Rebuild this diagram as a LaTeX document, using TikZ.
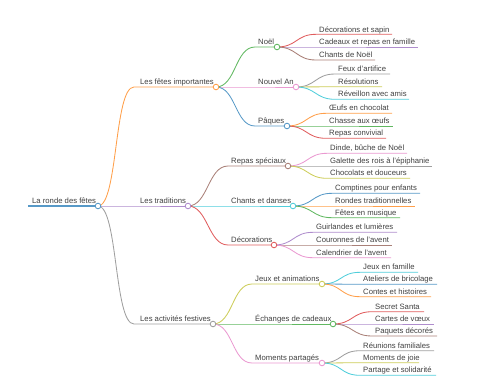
\documentclass[tikz,border=0pt]{standalone}
\usepackage{fontspec}
\setmainfont{Liberation Sans}

\definecolor{cBlue}{HTML}{1F77B4}
\definecolor{cOrange}{HTML}{FF7F0E}
\definecolor{cGreen}{HTML}{2CA02C}
\definecolor{cRed}{HTML}{D62728}
\definecolor{cPurple}{HTML}{9467BD}
\definecolor{cBrown}{HTML}{8C564B}
\definecolor{cPink}{HTML}{E377C2}
\definecolor{cGray}{HTML}{7F7F7F}
\definecolor{cOlive}{HTML}{BCBD22}
\definecolor{cCyan}{HTML}{17BECF}

\tikzset{
  lbl/.style={anchor=base west, inner sep=0pt, font=\fontsize{7.7}{9}\selectfont, text=black!75},
  ln/.style={draw=#1!75!white, line width=0.85pt},
  knob/.style={circle, draw=#1!75!white, fill=white, line width=0.85pt, inner sep=0pt, minimum size=5.6pt},
  br/.style={to path={.. controls +(20,0) and +(-20,0) .. (\tikztotarget)}},
}

\begin{document}
\begin{tikzpicture}[x=1pt,y=1pt,yscale=-1,xscale=1]
\useasboundingbox (0,0) rectangle (480,384);

% --- 1. racine ---
\coordinate (root-s) at (28,206); \coordinate (root) at (98,206);
\node[lbl] (root-t) at (32,203.5) {La ronde des fêtes};
\draw[ln=cBlue, line width=1.5pt] (root-s) -- (root);

% --- 2. premier niveau ---
\coordinate (fetes-s) at (134,87); \coordinate (fetes) at (216,87);
\node[lbl] (fetes-t) at (140,84.5) {Les fêtes importantes};
\draw[ln=cOrange] (root) to[br] (fetes-s) -- (fetes);

\coordinate (trad-s) at (134,206); \coordinate (trad) at (188,206);
\node[lbl] (trad-t) at (140,203.5) {Les traditions};
\draw[ln=cPurple] (root) to[br] (trad-s) -- (trad);

\coordinate (activ-s) at (134,324); \coordinate (activ) at (213,324);
\node[lbl] (activ-t) at (140,321.5) {Les activités festives};
\draw[ln=cGray] (root) to[br] (activ-s) -- (activ);

% --- 3. les fêtes importantes ---
\coordinate (noel-s) at (255,47); \coordinate (noel) at (277,47);
\node[lbl] (noel-t) at (258,44.5) {Noël};
\draw[ln=cGreen] (fetes) to[br] (noel-s) -- (noel);

\coordinate (nouvel-s) at (255,87); \coordinate (nouvel) at (296,87);
\node[lbl] (nouvel-t) at (258,84.5) {Nouvel An};
\draw[ln=cPink] (fetes) to[br] (nouvel-s) -- (nouvel);

\coordinate (paques-s) at (255,126); \coordinate (paques) at (287,126);
\node[lbl] (paques-t) at (258,123.5) {Pâques};
\draw[ln=cBlue] (fetes) to[br] (paques-s) -- (paques);

% Noël
\coordinate (sapin-s) at (316,34.3); \coordinate (sapin) at (392,34.3);
\node[lbl] (sapin-t) at (319,32) {Décorations et sapin};
\draw[ln=cRed] (noel) to[br] (sapin-s) -- (sapin);

\coordinate (cadeaux-s) at (316,47); \coordinate (cadeaux) at (418,47);
\node[lbl] (cadeaux-t) at (319,44.5) {Cadeaux et repas en famille};
\draw[ln=cPurple] (noel) to[br] (cadeaux-s) -- (cadeaux);

\coordinate (chantsn-s) at (316,60); \coordinate (chantsn) at (375,60);
\node[lbl] (chantsn-t) at (319,57.5) {Chants de Noël};
\draw[ln=cBrown] (noel) to[br] (chantsn-s) -- (chantsn);

% Nouvel An
\coordinate (feux-s) at (335,74); \coordinate (feux) at (390,74);
\node[lbl] (feux-t) at (338,71.5) {Feux d'artifice};
\draw[ln=cGray] (nouvel) to[br] (feux-s) -- (feux);

\coordinate (resol-s) at (335,86.7); \coordinate (resol) at (382,86.7);
\node[lbl] (resol-t) at (338,84.2) {Résolutions};
\draw[ln=cOlive] (nouvel) to[br] (resol-s) -- (resol);

\coordinate (reveil-s) at (335,99.3); \coordinate (reveil) at (409,99.3);
\node[lbl] (reveil-t) at (338,96.8) {Réveillon avec amis};
\draw[ln=cCyan] (nouvel) to[br] (reveil-s) -- (reveil);

% Pâques
\coordinate (oeufs-s) at (326,113.3); \coordinate (oeufs) at (392,113.3);
\node[lbl] (oeufs-t) at (329,110.8) {Œufs en chocolat};
\draw[ln=cOrange] (paques) to[br] (oeufs-s) -- (oeufs);

\coordinate (chasse-s) at (326,126); \coordinate (chasse) at (393,126);
\node[lbl] (chasse-t) at (329,123.5) {Chasse aux œufs};
\draw[ln=cGreen] (paques) to[br] (chasse-s) -- (chasse);

\coordinate (conviv-s) at (326,138.3); \coordinate (conviv) at (386,138.3);
\node[lbl] (conviv-t) at (329,135.8) {Repas convivial};
\draw[ln=cRed] (paques) to[br] (conviv-s) -- (conviv);

% --- 4. les traditions ---
\coordinate (repas-s) at (228,166); \coordinate (repas) at (288,166);
\node[lbl] (repas-t) at (231,163.5) {Repas spéciaux};
\draw[ln=cBrown] (trad) to[br] (repas-s) -- (repas);

\coordinate (danses-s) at (228,206); \coordinate (danses) at (293,206);
\node[lbl] (danses-t) at (231,203.5) {Chants et danses};
\draw[ln=cCyan] (trad) to[br] (danses-s) -- (danses);

\coordinate (deco-s) at (228,245); \coordinate (deco) at (274,245);
\node[lbl] (deco-t) at (231,242.5) {Décorations};
\draw[ln=cRed] (trad) to[br] (deco-s) -- (deco);

% Repas spéciaux
\coordinate (dinde-s) at (327,153.3); \coordinate (dinde) at (407,153.3);
\node[lbl] (dinde-t) at (330,150.8) {Dinde, bûche de Noël};
\draw[ln=cPink] (repas) to[br] (dinde-s) -- (dinde);

\coordinate (galette-s) at (327,166); \coordinate (galette) at (432,166);
\node[lbl] (galette-t) at (330,163.5) {Galette des rois à l'épiphanie};
\draw[ln=cGray] (repas) to[br] (galette-s) -- (galette);

\coordinate (choco-s) at (327,178.3); \coordinate (choco) at (410,178.3);
\node[lbl] (choco-t) at (330,175.8) {Chocolats et douceurs};
\draw[ln=cOlive] (repas) to[br] (choco-s) -- (choco);

% Chants et danses
\coordinate (compt-s) at (332,193.3); \coordinate (compt) at (420,193.3);
\node[lbl] (compt-t) at (335,190.8) {Comptines pour enfants};
\draw[ln=cBlue] (danses) to[br] (compt-s) -- (compt);

\coordinate (rondes-s) at (332,206); \coordinate (rondes) at (415,206);
\node[lbl] (rondes-t) at (335,203.5) {Rondes traditionnelles};
\draw[ln=cOrange] (danses) to[br] (rondes-s) -- (rondes);

\coordinate (musique-s) at (332,217.7); \coordinate (musique) at (400,217.7);
\node[lbl] (musique-t) at (335,215.2) {Fêtes en musique};
\draw[ln=cGreen] (danses) to[br] (musique-s) -- (musique);

% Décorations
\coordinate (guirl-s) at (313,232.3); \coordinate (guirl) at (397,232.3);
\node[lbl] (guirl-t) at (316,229.8) {Guirlandes et lumières};
\draw[ln=cPurple] (deco) to[br] (guirl-s) -- (guirl);

\coordinate (couron-s) at (313,245); \coordinate (couron) at (392,245);
\node[lbl] (couron-t) at (316,242.5) {Couronnes de l'avent};
\draw[ln=cBrown] (deco) to[br] (couron-s) -- (couron);

\coordinate (calend-s) at (313,257.7); \coordinate (calend) at (391,257.7);
\node[lbl] (calend-t) at (316,255.2) {Calendrier de l'avent};
\draw[ln=cPink] (deco) to[br] (calend-s) -- (calend);

% --- 5. les activités festives ---
\coordinate (jeux-s) at (252,284); \coordinate (jeux) at (322,284);
\node[lbl] (jeux-t) at (255,281.5) {Jeux et animations};
\draw[ln=cOlive] (activ) to[br] (jeux-s) -- (jeux);

\coordinate (echang-s) at (252,324); \coordinate (echang) at (333,324);
\node[lbl] (echang-t) at (255,321.5) {Échanges de cadeaux};
\draw[ln=cGreen] (activ) to[br] (echang-s) -- (echang);

\coordinate (moment-s) at (252,363); \coordinate (moment) at (322,363);
\node[lbl] (moment-t) at (255,360.5) {Moments partagés};
\draw[ln=cPink] (activ) to[br] (moment-s) -- (moment);

% Jeux et animations
\coordinate (famille-s) at (360,272.3); \coordinate (famille) at (418,272.3);
\node[lbl] (famille-t) at (363,269.8) {Jeux en famille};
\draw[ln=cCyan] (jeux) to[br] (famille-s) -- (famille);

\coordinate (atel-s) at (360,284.3); \coordinate (atel) at (437,284.3);
\node[lbl] (atel-t) at (363,281.8) {Ateliers de bricolage};
\draw[ln=cBlue] (jeux) to[br] (atel-s) -- (atel);

\coordinate (contes-s) at (360,296.7); \coordinate (contes) at (431,296.7);
\node[lbl] (contes-t) at (363,294.2) {Contes et histoires};
\draw[ln=cOrange] (jeux) to[br] (contes-s) -- (contes);

% Échanges de cadeaux
\coordinate (santa-s) at (372,311.7); \coordinate (santa) at (424,311.7);
\node[lbl] (santa-t) at (375,309.2) {Secret Santa};
\draw[ln=cRed] (echang) to[br] (santa-s) -- (santa);

\coordinate (voeux-s) at (372,324); \coordinate (voeux) at (434,324);
\node[lbl] (voeux-t) at (375,321.5) {Cartes de vœux};
\draw[ln=cPurple] (echang) to[br] (voeux-s) -- (voeux);

\coordinate (paquets-s) at (372,336); \coordinate (paquets) at (437,336);
\node[lbl] (paquets-t) at (375,333.5) {Paquets décorés};
\draw[ln=cBrown] (echang) to[br] (paquets-s) -- (paquets);

% Moments partagés
\coordinate (reunion-s) at (360,350.7); \coordinate (reunion) at (434,350.7);
\node[lbl] (reunion-t) at (363,348.2) {Réunions familiales};
\draw[ln=cGray] (moment) to[br] (reunion-s) -- (reunion);

\coordinate (joie-s) at (360,362.7); \coordinate (joie) at (419,362.7);
\node[lbl] (joie-t) at (363,360.2) {Moments de joie};
\draw[ln=cOlive] (moment) to[br] (joie-s) -- (joie);

\coordinate (partage-s) at (360,375.3); \coordinate (partage) at (436,375.3);
\node[lbl] (partage-t) at (363,372.8) {Partage et solidarité};
\draw[ln=cCyan] (moment) to[br] (partage-s) -- (partage);

% --- 6. les cercles par-dessus ---
\node[knob=cBlue] (root-c) at (root) {};
\node[knob=cOrange] (fetes-c) at (fetes) {};
\node[knob=cPurple] (trad-c) at (trad) {};
\node[knob=cGray] (activ-c) at (activ) {};
\node[knob=cGreen] (noel-c) at (noel) {};
\node[knob=cPink] (nouvel-c) at (nouvel) {};
\node[knob=cBlue] (paques-c) at (paques) {};
\node[knob=cBrown] (repas-c) at (repas) {};
\node[knob=cCyan] (danses-c) at (danses) {};
\node[knob=cRed] (deco-c) at (deco) {};
\node[knob=cOlive] (jeux-c) at (jeux) {};
\node[knob=cGreen] (echang-c) at (echang) {};
\node[knob=cPink] (moment-c) at (moment) {};

\end{tikzpicture}
\end{document}
